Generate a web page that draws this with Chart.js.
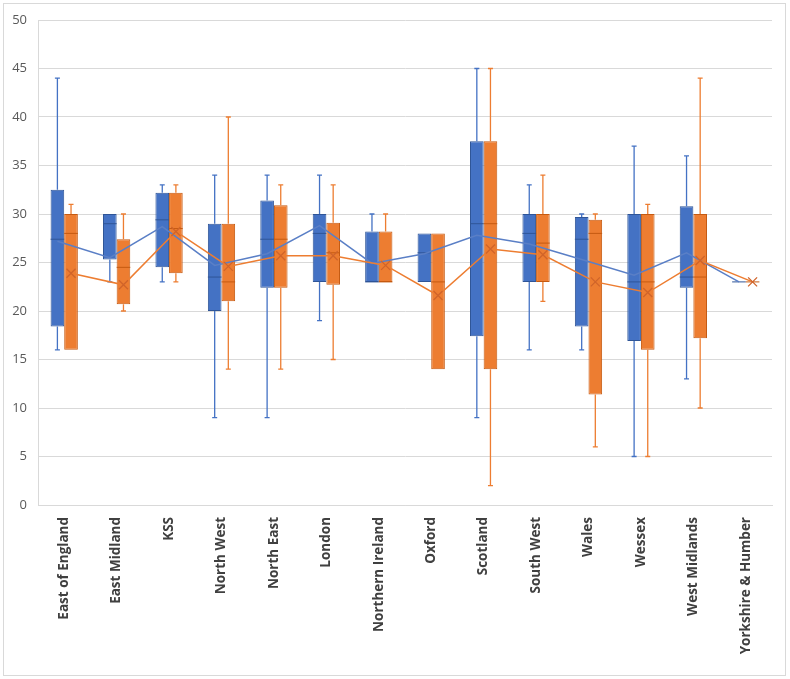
<!DOCTYPE html>
<html><head><meta charset="utf-8">
<script src="https://cdn.jsdelivr.net/npm/chart.js@4/dist/chart.umd.min.js"></script>
<style>html,body{margin:0;padding:0;background:#fff}</style>
</head><body>
<canvas id="c" width="790" height="679"></canvas>
<script>
const categories = ["East of England","East Midland","KSS","North West","North East","London","Northern Ireland","Oxford","Scotland","South West","Wales","Wessex","West Midlands","Yorkshire & Humber"];

const blueMin    = [16, 23, 23, 9, 9, 19, 23, 23, 9, 16, 16, 5, 13, 23];
const blueQ1     = [18.4, 25.3, 24.5, 20, 22.4, 23, 23, 23, 17.4, 23, 18.4, 16.9, 22.4, 23];
const blueMedian = [27.4, 29, 29.4, 23.5, 27.4, 28, 23, 26, 29, 28, 27.4, 23, 23.5, 23];
const blueQ3     = [32.5, 30, 32.2, 29, 31.4, 30, 28.2, 28, 37.5, 30, 29.7, 30, 30.8, 23];
const blueMax    = [44, 30, 33, 34, 34, 34, 30, 28, 45, 33, 30, 37, 36, 23];
const blueMean   = [27.2, 25.5, 28.7, 24.7, 25.9, 28.8, 24.9, 25.9, 27.8, 26.9, 25.3, 23.7, 26, 23];

const orangeMin    = [16, 20, 23, 14, 14, 15, 23, 14, 2, 21, 6, 5, 10, 23];
const orangeQ1     = [16, 20.7, 23.9, 21, 22.4, 22.7, 23, 14, 14, 23, 11.4, 16, 17.2, 23];
const orangeMedian = [28, 24.5, 28.5, 23, 27.4, 26, 23, 23, 29, 27, 28, 23, 23.5, 23];
const orangeQ3     = [30, 27.4, 32.2, 29, 30.9, 29.1, 28.2, 28, 37.5, 30, 29.4, 30, 30, 23];
const orangeMax    = [31, 30, 33, 40, 33, 33, 30, 28, 45, 34, 30, 31, 44, 23];
const orangeMean   = [23.9, 22.7, 28.2, 24.6, 25.7, 25.7, 24.7, 21.6, 26.4, 25.8, 23, 21.9, 25.2, 23];

const yMin = 0, yMax = 50, yStep = 5;

const series = [
  {min: blueMin, q1: blueQ1, med: blueMedian, q3: blueQ3, max: blueMax, mean: blueMean,
   fill: '#4472C4', edge: '#2F5597', whisker: '#4472C4', line: '#5A7FC6', marker: null},
  {min: orangeMin, q1: orangeQ1, med: orangeMedian, q3: orangeQ3, max: orangeMax, mean: orangeMean,
   fill: '#ED7D31', edge: '#C55A11', whisker: '#ED7D31', line: '#ED7D31', marker: '#D0642A'}
];

const outerBorder = {
  id: 'outerBorder',
  beforeDraw(chart) {
    const ctx = chart.ctx;
    ctx.save();
    ctx.fillStyle = '#fff';
    ctx.fillRect(0, 0, chart.width, chart.height);
    ctx.strokeStyle = '#D9D9D9';
    ctx.lineWidth = 1;
    ctx.strokeRect(3.5, 3.5, 782, 672);
    ctx.restore();
  }
};

const boxExtras = {
  id: 'boxExtras',
  afterDatasetsDraw(chart) {
    const ctx = chart.ctx;
    const y = chart.scales.y;
    ctx.save();
    series.forEach((s, d) => {
      const meta = chart.getDatasetMeta(d);
      meta.data.forEach((el, i) => {
        const x = el.x, w = el.width;
        ctx.strokeStyle = s.whisker;
        ctx.lineWidth = 1.3;
        const pMax = y.getPixelForValue(s.max[i]), pQ3 = y.getPixelForValue(s.q3[i]);
        const pMin = y.getPixelForValue(s.min[i]), pQ1 = y.getPixelForValue(s.q1[i]);
        ctx.beginPath();
        if (s.max[i] > s.q3[i]) {
          ctx.moveTo(x, pQ3); ctx.lineTo(x, pMax);
          ctx.moveTo(x - 2.5, pMax); ctx.lineTo(x + 2.5, pMax);
        }
        if (s.min[i] < s.q1[i]) {
          ctx.moveTo(x, pQ1); ctx.lineTo(x, pMin);
          ctx.moveTo(x - 2.5, pMin); ctx.lineTo(x + 2.5, pMin);
        }
        ctx.stroke();
        ctx.strokeStyle = s.edge;
        ctx.lineWidth = 1;
        const pMed = y.getPixelForValue(s.med[i]);
        ctx.beginPath();
        ctx.moveTo(x - w / 2, pMed); ctx.lineTo(x + w / 2, pMed);
        ctx.stroke();
      });
    });
    series.forEach((s, d) => {
      const meta = chart.getDatasetMeta(d);
      ctx.strokeStyle = s.line;
      ctx.lineWidth = 1.5;
      ctx.beginPath();
      meta.data.forEach((el, i) => {
        const py = y.getPixelForValue(s.mean[i]);
        if (i === 0) ctx.moveTo(el.x, py); else ctx.lineTo(el.x, py);
      });
      ctx.stroke();
      if (s.marker) {
        ctx.strokeStyle = s.marker;
        ctx.lineWidth = 1.3;
        meta.data.forEach((el, i) => {
          const py = y.getPixelForValue(s.mean[i]);
          const r = 4.5;
          ctx.beginPath();
          ctx.moveTo(el.x - r, py - r); ctx.lineTo(el.x + r, py + r);
          ctx.moveTo(el.x - r, py + r); ctx.lineTo(el.x + r, py - r);
          ctx.stroke();
        });
      }
    });
    ctx.restore();
  }
};

new Chart(document.getElementById('c'), {
  type: 'bar',
  data: {
    labels: categories,
    datasets: series.map((s, d) => ({
      label: d === 0 ? 'Series 1' : 'Series 2',
      data: categories.map((c, i) => [s.q1[i], s.q3[i]]),
      backgroundColor: s.fill,
      borderColor: s.edge,
      borderWidth: 1,
      borderSkipped: false,
      categoryPercentage: 0.52,
      barPercentage: 1.0
    }))
  },
  options: {
    responsive: false,
    animation: false,
    layout: {padding: {left: 3, right: 18, top: 20, bottom: 0}},
    plugins: {legend: {display: false}, tooltip: {enabled: false}},
    scales: {
      x: {
        grid: {display: false, drawTicks: false},
        border: {display: true, color: '#D9D9D9'},
        ticks: {
          autoSkip: false, minRotation: 90, maxRotation: 90, padding: 12,
          color: '#404040',
          font: {family: 'Open Sans', size: 13.5, weight: 'bold'}
        },
        afterFit(scale) { scale.height = 174; }
      },
      y: {
        min: yMin, max: yMax,
        grid: {color: '#D9D9D9', drawTicks: false},
        border: {display: true, color: '#D9D9D9'},
        ticks: {
          stepSize: yStep, padding: 11, color: '#595959',
          font: {family: 'Open Sans', size: 13}
        },
        afterFit(scale) { scale.width = 35; }
      }
    }
  },
  plugins: [outerBorder, boxExtras]
});
</script>
</body></html>
